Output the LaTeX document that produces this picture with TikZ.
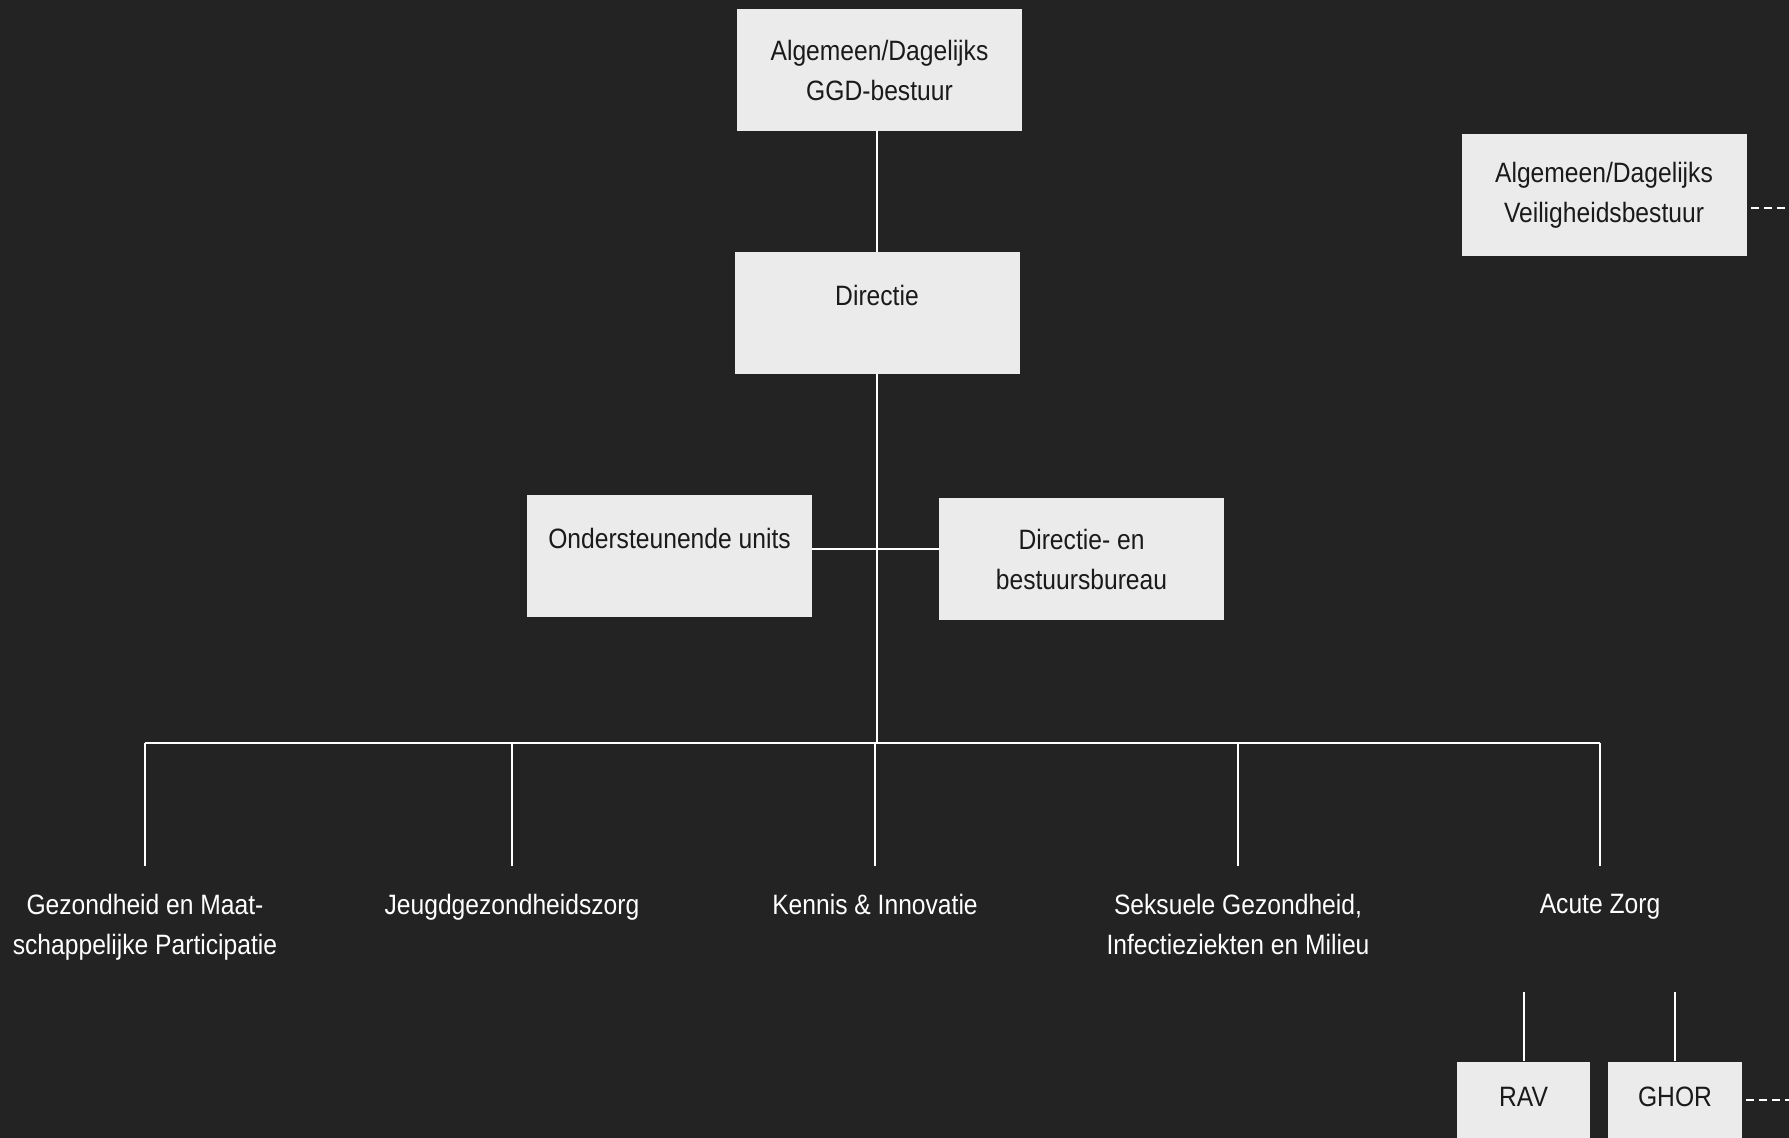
\documentclass[tikz,border=0pt]{standalone}
\usepackage{fontspec}
\setmainfont{Liberation Sans}[FakeStretch=0.88]
\usepackage{xcolor}
\definecolor{bg}{HTML}{232323}
\definecolor{boxgray}{HTML}{EBEBEB}
\definecolor{ink}{HTML}{1A1A1A}
\begin{document}
\begin{tikzpicture}[x=0.5pt,y=-0.5pt]
        \tikzstyle{box} = [rectangle, fill=boxgray, text=ink, inner sep=0pt, minimum width=142.5pt, minimum height=61pt, align=center, font=\fontsize{14}{20}\selectfont]
        \tikzstyle{toptext} = [text height=27pt, text depth=34pt]
        \tikzstyle{unit} = [text=white, align=center, anchor=north, inner sep=14pt, font=\fontsize{14}{20}\selectfont]
        \tikzstyle{link} = [draw=white, line width=1pt]
        \tikzstyle{extern} = [draw=white, line width=1pt, dash pattern=on 4pt off 2.5pt, shorten <=2pt]
        \fill[bg] (0,0) rectangle (1789,1138);
        \clip (0,0) rectangle (1789,1138);
        \node[box] (ggd) at (879.5,70) {Algemeen/Dagelijks\\GGD-bestuur};
        \node[box, toptext] (dir) at (877,313) {Directie};
        \node[box, toptext, text height=26.5pt] (ond) at (669.5,556.5) {Ondersteunende units};
        \node[box] (dbb) at (1081.5,559.5) {Directie- en\\bestuursbureau};
        \node[box] (vb) at (1604,195.5) {Algemeen/Dagelijks\\Veiligheidsbestuur};
        \node[box, minimum width=66.5pt, text height=22.5pt, text depth=38.5pt] (rav) at (1523.5,1122.5) {RAV};
        \node[box, minimum width=67pt, text height=22.5pt, text depth=38.5pt] (ghor) at (1675,1122.5) {GHOR};
        \node[unit] (gmp) at (145,866) {Gezondheid en Maat-\\schappelijke Participatie};
        \node[unit] (jgz) at (512,866) {Jeugdgezondheidszorg};
        \node[unit] (ki) at (875,866) {Kennis \& Innovatie};
        \node[unit] (sgim) at (1238,866) {Seksuele Gezondheid,\\Infectieziekten en Milieu};
        \node[unit] (az) at (1600,866) {Acute Zorg};
        \coordinate (bus) at (876,743);
        \coordinate (side) at (876,549);
        \coordinate (azfoot) at (1600,992);
        \coordinate (vbout) at (1789,208);
        \coordinate (ghorout) at (1789,1100);
        \draw[link] (dir.north) -- (dir.north |- ggd.south);
        \draw[link] (dir.south) -- (dir.south |- bus);
        \draw[link] (ond.east |- side) -- (dbb.west |- side);
        \draw[link] (gmp.north |- bus) -- (az.north |- bus);
        \foreach \u in {gmp, jgz, ki, sgim, az}
            \draw[link] (\u.north) -- (\u.north |- bus);
        \foreach \u in {rav, ghor}
            \draw[link] (\u.north) -- (\u.north |- azfoot);
        \draw[extern] (vb.east |- vbout) -- (vbout);
        \draw[extern] (ghor.east |- ghorout) -- (ghorout);
\end{tikzpicture}
\end{document}
